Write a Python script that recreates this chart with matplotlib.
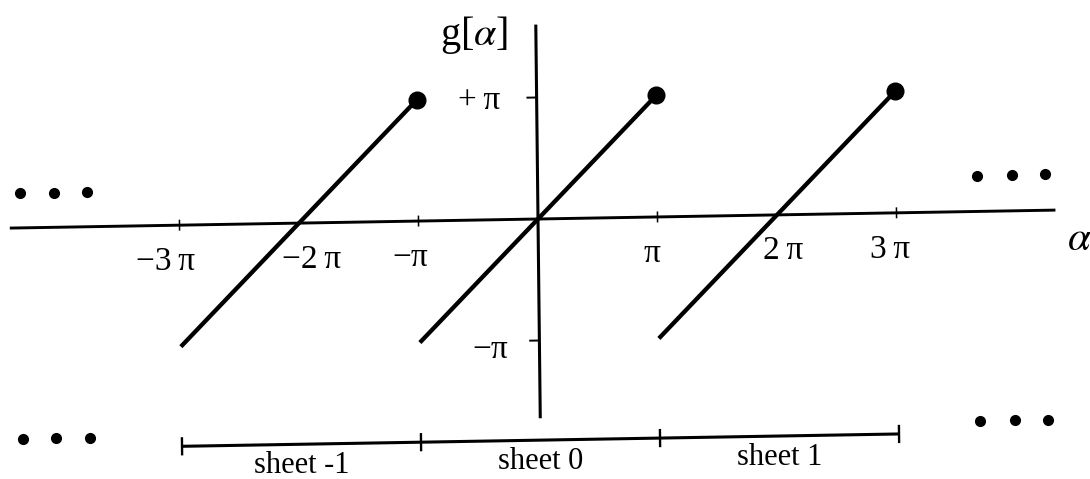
import numpy as np
import matplotlib

matplotlib.use("Agg")
import matplotlib.pyplot as plt  # noqa: E402
from matplotlib.transforms import Affine2D  # noqa: E402

PI = np.pi

# branches of g[alpha] = alpha - 2*pi*n, one per sheet n
sheets = [-1, 0, 1]
sheet_labels = ["sheet -1", "sheet 0", "sheet 1"]
branch_lo = [-PI, -PI, -PI]
branch_hi = [PI, PI, PI]

# axis tick values (multiples of pi) and labels
x_tick_vals = [-3, -1, 1, 3]
x_label_vals = [-3, -2, -1, 1, 2, 3]
x_label_text = ["\u22123\u2009\u03c0", "\u22122\u2009\u03c0", "\u2212\u03c0", "\u03c0", "2\u2009\u03c0", "3\u2009\u03c0"]
y_tick_vals = [1, -1]
y_label_text = ["+\u2009\u03c0", "\u2212\u03c0"]

# "..." continuation marks (multiples of pi)
dots_x_left = [-4.33, -4.05, -3.77]
dots_x_right = [3.68, 3.97, 4.25]

W, H, DPI = 10.9, 4.79, 100
ORIGIN = (538, 260)          # display pixels of alpha = 0, g = 0
SX, SY = 119.5, 121.5        # pixels per pi
K1, K2 = 0.0172, 0.0114      # slight slant of the drawing

plt.rcParams["font.family"] = ["Liberation Serif", "DejaVu Serif"]
plt.rcParams["mathtext.fontset"] = "stix"

fig = plt.figure(figsize=(W, H), dpi=DPI)
ax = fig.add_axes([0, 0, 1, 1])
ax.set_xlim(-ORIGIN[0] / SX * PI, (W * DPI - ORIGIN[0]) / SX * PI)
ax.set_ylim(-ORIGIN[1] / SY * PI, (H * DPI - ORIGIN[1]) / SY * PI)
ax.axis("off")

slant = Affine2D(np.array([[1.0, -K2, K2 * ORIGIN[1]],
                           [K1, 1.0, -K1 * ORIGIN[0]],
                           [0.0, 0.0, 1.0]]))
tr = ax.transData + slant

kw = dict(transform=tr, clip_on=False, color="black", solid_capstyle="butt")

# axes
ax.plot([-4.42 * PI, 4.33 * PI], [0, 0], lw=2.1, **kw)
ax.plot([0, 0], [-1.64 * PI, 1.60 * PI], lw=2.2, **kw)
for t in x_tick_vals:
    ax.plot([t * PI, t * PI], [-0.045 * PI, 0.045 * PI], lw=1.1, **kw)
for t in y_tick_vals:
    ax.plot([-0.085 * PI, 0], [t * PI, t * PI], lw=1.4, **kw)

# branches with the closed end at +pi
for n, lo, hi in zip(sheets, branch_lo, branch_hi):
    a0, a1 = 2 * PI * n + lo, 2 * PI * n + hi
    ax.plot([a0, a1], [a0 - 2 * PI * n, a1 - 2 * PI * n], lw=3.1, **kw)
    ax.plot([a1], [a1 - 2 * PI * n], marker="o", ms=12, transform=tr,
            clip_on=False, color="black", ls="none")

# tick labels
label_dx = [-0.12, 0.105, -0.07, -0.05, 0.05, -0.06]
for v, txt, dx in zip(x_label_vals, x_label_text, label_dx):
    ax.text((v + dx) * PI, -0.30 * PI, txt, transform=tr, fontsize=24,
            ha="center", va="center")
ax.text(-0.48 * PI, 0.985 * PI, y_label_text[0], transform=tr, fontsize=24,
        ha="center", va="center")
ax.text(-0.41 * PI, -1.07 * PI, y_label_text[1], transform=tr, fontsize=24,
        ha="center", va="center")
ax.text(-0.52 * PI, 1.52 * PI, r"g[$\alpha$]", transform=tr, fontsize=29,
        ha="center", va="center")
ax.text(4.53 * PI, -0.25 * PI, r"$\alpha$", transform=tr, fontsize=30,
        ha="center", va="center")

# continuation dots
for y in (0.285, -1.735):
    ax.plot(np.array(dots_x_left) * PI, [y * PI] * 3, "o", ms=7, color="black",
            transform=tr, clip_on=False)
ax.plot(np.array(dots_x_right) * PI, [0.295 * PI] * 3, "o", ms=7, color="black",
        transform=tr, clip_on=False)
ax.plot(np.array(dots_x_right) * PI, [-1.725 * PI] * 3, "o", ms=7, color="black",
        transform=tr, clip_on=False)

# sheet ranges along the bottom
bar_y = -1.82 * PI
edges = [(2 * n - 1) * PI for n in sheets] + [(2 * sheets[-1] + 1) * PI]
ax.plot([edges[0], edges[-1]], [bar_y, bar_y], lw=2.2, **kw)
for e in edges:
    ax.plot([e, e], [bar_y - 0.075 * PI, bar_y + 0.075 * PI], lw=1.7, **kw)
for n, txt in zip(sheets, sheet_labels):
    ax.text(2 * n * PI, bar_y - 0.175 * PI, txt, transform=tr, fontsize=22,
            ha="center", va="center")

fig.savefig("out.png", dpi=DPI)
